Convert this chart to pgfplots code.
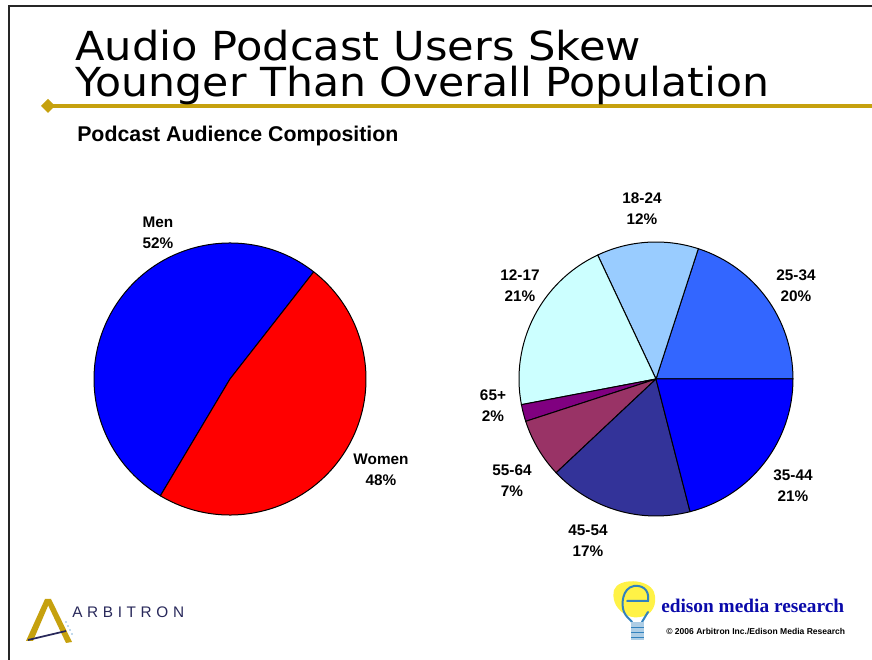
\documentclass[border=0pt]{standalone}
\usepackage{fontspec}
\setmainfont{Liberation Sans}
\newfontfamily\titlefont{DejaVu Sans}
\newfontfamily\seriffont{Liberation Serif}
\usepackage{pgfplots}
\usepackage{pgfplotstable}
\pgfplotsset{compat=1.18}

\definecolor{menblue}{RGB}{0,0,255}
\definecolor{womenred}{RGB}{255,0,0}
\definecolor{c2534}{RGB}{51,102,255}
\definecolor{c1824}{RGB}{153,204,255}
\definecolor{c1217}{RGB}{204,255,255}
\definecolor{c65}{RGB}{128,0,128}
\definecolor{c5564}{RGB}{153,51,102}
\definecolor{c4554}{RGB}{51,51,153}
\definecolor{c3544}{RGB}{0,0,255}
\definecolor{rulegold}{RGB}{198,161,14}
\definecolor{arbnavy}{RGB}{40,40,90}
\definecolor{edblue}{RGB}{10,10,170}
\definecolor{bulbyellow}{RGB}{255,242,70}
\definecolor{bulbblue}{RGB}{50,130,190}

% label, share in percent, colour, label position (px, from top left)
\pgfplotstableread{
label pct col lx ly
Men 52 menblue 158 233
Women 48 womenred 381 470
}\gendertab

\pgfplotstableread{
label pct col lx ly
25-34 20 c2534 796 286
18-24 12 c1824 642 209
12-17 21 c1217 520 286
65+ 2 c65 493 406
55-64 7 c5564 512 481
45-54 17 c4554 588 541
35-44 21 c3544 793 486
}\agetab

% #1 table, #2 cx, #3 cy, #4 radius (px), #5 start angle
\newcommand\drawpie[5]{%
  \pgfplotstablegetrowsof{#1}%
  \pgfmathtruncatemacro\lastrow{\pgfplotsretval-1}%
  \xdef\cumang{#5}%
  \foreach \i in {0,...,\lastrow}{%
    \pgfplotstablegetelem{\i}{pct}\of{#1}\let\pct\pgfplotsretval
    \pgfplotstablegetelem{\i}{col}\of{#1}\let\col\pgfplotsretval
    \pgfmathsetmacro\sa{\cumang}%
    \pgfmathsetmacro\se{\cumang+3.6*\pct}%
    \fill[\col, draw=black, line width=0.75pt, line join=round]
      (axis cs:#2,-#3) -- ++(\sa:#4*0.75pt)
      arc[start angle=\sa, end angle=\se, radius=#4*0.75pt] -- cycle;
    \xdef\cumang{\se}%
  }%
  \foreach \i in {0,...,\lastrow}{%
    \pgfplotstablegetelem{\i}{pct}\of{#1}\let\pct\pgfplotsretval
    \pgfplotstablegetelem{\i}{label}\of{#1}\let\lab\pgfplotsretval
    \pgfplotstablegetelem{\i}{lx}\of{#1}\let\lx\pgfplotsretval
    \pgfplotstablegetelem{\i}{ly}\of{#1}\let\ly\pgfplotsretval
    \node[align=center, font=\bfseries\fontsize{11.5}{15.6}\selectfont]
      at (axis cs:\lx,-\ly) {\lab\\\pct\%};
  }%
}

\begin{document}
\begin{tikzpicture}
\begin{axis}[
    width=654pt, height=495pt, scale only axis,
    xmin=0, xmax=872, ymin=-660, ymax=0,
    hide axis, clip=false
]
\addplot[draw=none] coordinates {(0,-660) (872,0)};

% slide frame and title rule
\draw[black!85, line width=1.1pt] (axis cs:9,-661) -- (axis cs:9,-6) -- (axis cs:873,-6);
\draw[rulegold, line width=2.3pt] (axis cs:48,-106) -- (axis cs:873,-106);
\fill[rulegold] (axis cs:41,-106) -- (axis cs:48,-99) -- (axis cs:55,-106) -- (axis cs:48,-113) -- cycle;

\node[anchor=base west, inner sep=0pt, font=\titlefont\fontsize{30}{32}\selectfont]
  at (axis cs:75,-61) {\scalebox{1.08}[1]{Audio Podcast Users Skew}};
\node[anchor=base west, inner sep=0pt, font=\titlefont\fontsize{30}{32}\selectfont]
  at (axis cs:75,-97) {\scalebox{1.065}[1]{Younger Than Overall Population}};

\node[anchor=base west, inner sep=0pt, font=\bfseries\fontsize{16}{19}\selectfont]
  at (axis cs:77,-142) {Podcast Audience Composition};

\pgfplotsextra{\drawpie{\gendertab}{230}{379}{136}{52}}
\pgfplotsextra{\drawpie{\agetab}{656}{379}{137}{0}}

% Arbitron logo
\fill[rulegold] (axis cs:45,-599) -- (axis cs:51,-599) -- (axis cs:33,-641) -- (axis cs:26,-641) -- cycle;
\fill[rulegold] (axis cs:47,-603) -- (axis cs:51,-599) -- (axis cs:72,-642) -- (axis cs:66,-643) -- cycle;
\draw[arbnavy, line width=1.3pt] (axis cs:28,-640) -- (axis cs:66,-631);
\fill[bulbblue!60] (axis cs:66,-622) circle (0.7pt) (axis cs:68,-626) circle (0.7pt)
  (axis cs:70,-630) circle (0.7pt) (axis cs:72,-634) circle (0.7pt);
\node[anchor=base west, inner sep=0pt, text=arbnavy, font=\fontsize{11.5}{12}\selectfont]
  at (axis cs:72,-618) {A\kern3.5pt R\kern3.5pt B\kern3.5pt I\kern3.5pt T\kern3.5pt R\kern3.5pt O\kern3.5pt N};

% Edison logo
\fill[bulbyellow] (axis cs:614,-590) .. controls (axis cs:618,-578) and (axis cs:648,-578) .. (axis cs:654,-592)
  .. controls (axis cs:658,-604) and (axis cs:652,-616) .. (axis cs:640,-617)
  .. controls (axis cs:628,-620) and (axis cs:610,-608) .. cycle;
\draw[bulbblue, line width=1.5pt, line cap=round]
  (axis cs:627,-601) -- (axis cs:648,-601)
  .. controls (axis cs:650,-588) and (axis cs:640,-585) .. (axis cs:634,-586)
  .. controls (axis cs:622,-588) and (axis cs:621,-605) .. (axis cs:624,-612)
  .. controls (axis cs:626,-617) and (axis cs:630,-619) .. (axis cs:632,-622);
\draw[bulbblue, line width=1.5pt, line cap=round] (axis cs:642,-622) -- (axis cs:648,-612);
\fill[bulbblue!40] (axis cs:631,-622) rectangle (axis cs:644,-640);
\draw[bulbblue, line width=0.6pt] (axis cs:631,-627) -- (axis cs:644,-627)
  (axis cs:631,-632) -- (axis cs:644,-632) (axis cs:631,-637) -- (axis cs:644,-637);
\node[anchor=base west, inner sep=0pt, text=edblue, font=\seriffont\bfseries\fontsize{14.5}{15}\selectfont]
  at (axis cs:661,-613) {edison media research};
\node[anchor=base west, inner sep=0pt, font=\bfseries\fontsize{6.4}{7}\selectfont]
  at (axis cs:666,-635) {\textcopyright{} 2006 Arbitron Inc./Edison Media Research};
\end{axis}
\pgfresetboundingbox
\path (0,0) rectangle (654pt,495pt);
\end{tikzpicture}
\end{document}
